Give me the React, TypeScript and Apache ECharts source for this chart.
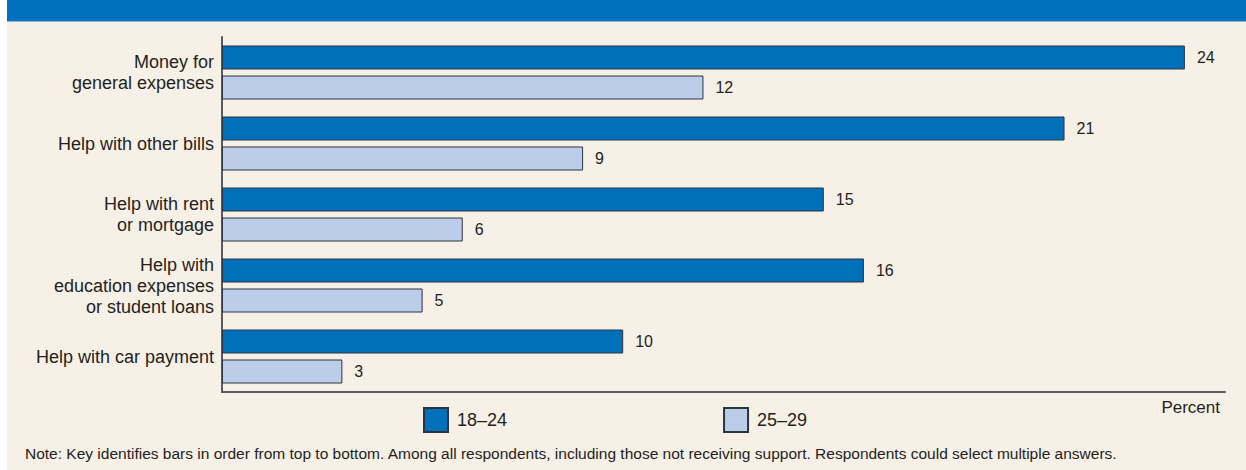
import React, { useEffect, useRef } from "react";
import * as echarts from "echarts";

const categories = [
  "Money for\ngeneral expenses",
  "Help with other bills",
  "Help with rent\nor mortgage",
  "Help with\neducation expenses\nor student loans",
  "Help with car payment",
];
const seriesNames = ["18–24", "25–29"];
const values1824 = [24, 21, 15, 16, 10];
const values2529 = [12, 9, 6, 5, 3];
const axisUnit = "Percent";
const note =
  "Note: Key identifies bars in order from top to bottom. Among all respondents, including those not receiving support. Respondents could select multiple answers.";

const FONT = "'Liberation Sans', Arial, Helvetica, sans-serif";
const TEXT = "#231f20";

export default function App() {
  const ref = useRef<HTMLDivElement>(null);
  useEffect(() => {
    if (!ref.current) return;
    const chart = echarts.init(ref.current, null, { renderer: "svg" });
    chart.setOption({
      animation: false,
      backgroundColor: "#ffffff",
      textStyle: { fontFamily: FONT },
      graphic: [
        { type: "rect", z: -10, shape: { x: 7, y: 22, width: 1239, height: 448 }, style: { fill: "#f7f0e6" } },
        { type: "rect", z: -10, shape: { x: 7, y: 0, width: 1239, height: 21 }, style: { fill: "#0071bc" } },
        { type: "rect", z: -10, shape: { x: 7, y: 21, width: 1239, height: 1 }, style: { fill: "#8db6de" } },
        {
          type: "text",
          x: 1220,
          y: 407,
          style: { text: axisUnit, fill: TEXT, font: `17px ${FONT}`, align: "right", verticalAlign: "middle" },
        },
        {
          type: "text",
          x: 25,
          y: 453,
          style: { text: note, fill: TEXT, font: `15.5px ${FONT}`, align: "left", verticalAlign: "middle" },
        },
      ],
      legend: {
        left: 423,
        top: 407,
        padding: 0,
        itemWidth: 24,
        itemHeight: 24,
        itemGap: 216,
        icon: "rect",
        data: seriesNames,
        textStyle: { color: TEXT, fontSize: 18, fontFamily: FONT, padding: [0, 0, 0, 4] },
      },
      grid: { left: 222, top: 37, width: 1003, height: 355, containLabel: false },
      xAxis: {
        type: "value",
        min: 0,
        max: 25,
        axisLine: { show: true, lineStyle: { color: "#5a5a5a", width: 2 } },
        axisTick: { show: false },
        axisLabel: { show: false },
        splitLine: { show: false },
      },
      yAxis: {
        type: "category",
        inverse: true,
        data: categories,
        axisLine: { show: true, lineStyle: { color: "#5a5a5a", width: 2 } },
        axisTick: { show: false },
        axisLabel: { color: TEXT, fontSize: 18, fontFamily: FONT, margin: 8, lineHeight: 21, align: "right" },
      },
      series: [
        {
          name: seriesNames[0],
          type: "bar",
          data: values1824,
          barWidth: 24,
          barGap: "25%",
          itemStyle: { color: "#0070ba", borderColor: "#2b3440", borderWidth: 1 },
          label: { show: true, position: "right", distance: 12, color: TEXT, fontSize: 16, fontFamily: FONT },
        },
        {
          name: seriesNames[1],
          type: "bar",
          data: values2529,
          barWidth: 24,
          barGap: "25%",
          itemStyle: { color: "#bccde9", borderColor: "#2b3440", borderWidth: 1 },
          label: { show: true, position: "right", distance: 12, color: TEXT, fontSize: 16, fontFamily: FONT },
        },
      ],
    });
    return () => chart.dispose();
  }, []);
  return (
    <div style={{ position: "absolute", left: 0, top: 0, width: 1246, height: 470 }}>
      <div ref={ref} style={{ width: 1246, height: 470 }} />
    </div>
  );
}
